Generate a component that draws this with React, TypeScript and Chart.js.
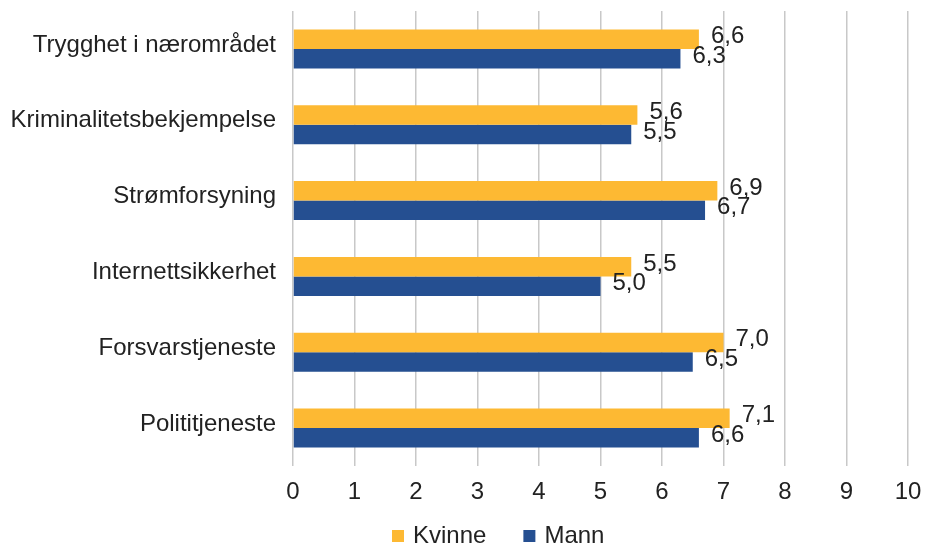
import React, { useEffect, useRef } from "react";
import { Chart, registerables } from "chart.js";

Chart.register(...registerables);

const categories = [
  "Trygghet i nærområdet",
  "Kriminalitetsbekjempelse",
  "Strømforsyning",
  "Internettsikkerhet",
  "Forsvarstjeneste",
  "Polititjeneste",
];
const kvinne = [6.6, 5.6, 6.9, 5.5, 7.0, 7.1];
const mann = [6.3, 5.5, 6.7, 5.0, 6.5, 6.6];
const seriesNames = ["Kvinne", "Mann"];
const seriesColors = ["#FDB933", "#254F91"];
const xTicks = [0, 1, 2, 3, 4, 5, 6, 7, 8, 9, 10];

const FONT = "Arial, 'Liberation Sans', sans-serif";
const TEXT = "#222222";

// Writes each bar's value (with decimal comma) just past the end of the bar
const valueLabels = {
  id: "valueLabels",
  afterDatasetsDraw(chart: any) {
    const ctx = chart.ctx;
    ctx.save();
    ctx.font = `24px ${FONT}`;
    ctx.fillStyle = TEXT;
    ctx.textAlign = "left";
    ctx.textBaseline = "alphabetic";
    chart.data.datasets.forEach((ds: any, di: number) => {
      const meta = chart.getDatasetMeta(di);
      meta.data.forEach((el: any, i: number) => {
        const v = ds.data[i] as number;
        const txt = v.toFixed(1).replace(".", ",");
        ctx.fillText(txt, el.x + 12, el.y + 4);
      });
    });
    ctx.restore();
  },
};

// Legend row under the axis: small square swatch followed by the series name
const bottomLegend = {
  id: "bottomLegend",
  afterDraw(chart: any) {
    const ctx = chart.ctx;
    ctx.save();
    ctx.font = `24px ${FONT}`;
    ctx.textBaseline = "alphabetic";
    ctx.textAlign = "left";
    const box = 12;
    const gapText = 9;
    const gapItems = 37;
    let x = 392;
    const baseline = 543;
    seriesNames.forEach((n, i) => {
      ctx.fillStyle = seriesColors[i];
      ctx.fillRect(x, baseline - 13, box, box);
      ctx.fillStyle = TEXT;
      ctx.fillText(n, x + box + gapText, baseline);
      x += box + gapText + ctx.measureText(n).width + gapItems;
    });
    ctx.restore();
  },
};

export default function App() {
  const ref = useRef<HTMLCanvasElement>(null);

  useEffect(() => {
    document.body.style.margin = "0";
    const chart = new Chart(ref.current!, {
      type: "bar",
      data: {
        labels: categories,
        datasets: seriesNames.map((name, i) => ({
          label: name,
          data: i === 0 ? kvinne : mann,
          backgroundColor: seriesColors[i],
          barPercentage: 1,
          categoryPercentage: 0.515,
        })),
      },
      options: {
        indexAxis: "y",
        animation: false,
        responsive: false,
        layout: { padding: { top: 11, right: 19, left: 0, bottom: 38 } },
        scales: {
          x: {
            min: 0,
            max: 10,
            afterBuildTicks: (scale: any) => {
              scale.ticks = xTicks.map((v) => ({ value: v }));
            },
            grid: { color: "#c8c8c8", lineWidth: 1.5, drawTicks: false },
            border: { display: false },
            ticks: {
              padding: 12,
              color: TEXT,
              font: { family: FONT, size: 24 },
            },
            afterFit: (scale: any) => {
              scale.height = 40;
              scale.paddingLeft = 0;
              scale.paddingRight = 0;
            },
          },
          y: {
            grid: { display: false, drawTicks: false },
            border: { display: false },
            ticks: {
              padding: 17,
              labelOffset: -4,
              color: TEXT,
              font: { family: FONT, size: 24 },
            },
            afterFit: (scale: any) => {
              scale.width = 293;
              scale.paddingTop = 0;
              scale.paddingBottom = 0;
            },
          },
        },
        plugins: {
          legend: { display: false },
          tooltip: { enabled: false },
        },
      },
      plugins: [valueLabels, bottomLegend],
    });
    return () => chart.destroy();
  }, []);

  return (
    <div style={{ width: 927, height: 544 }}>
      <canvas ref={ref} width={927} height={544} />
    </div>
  );
}
